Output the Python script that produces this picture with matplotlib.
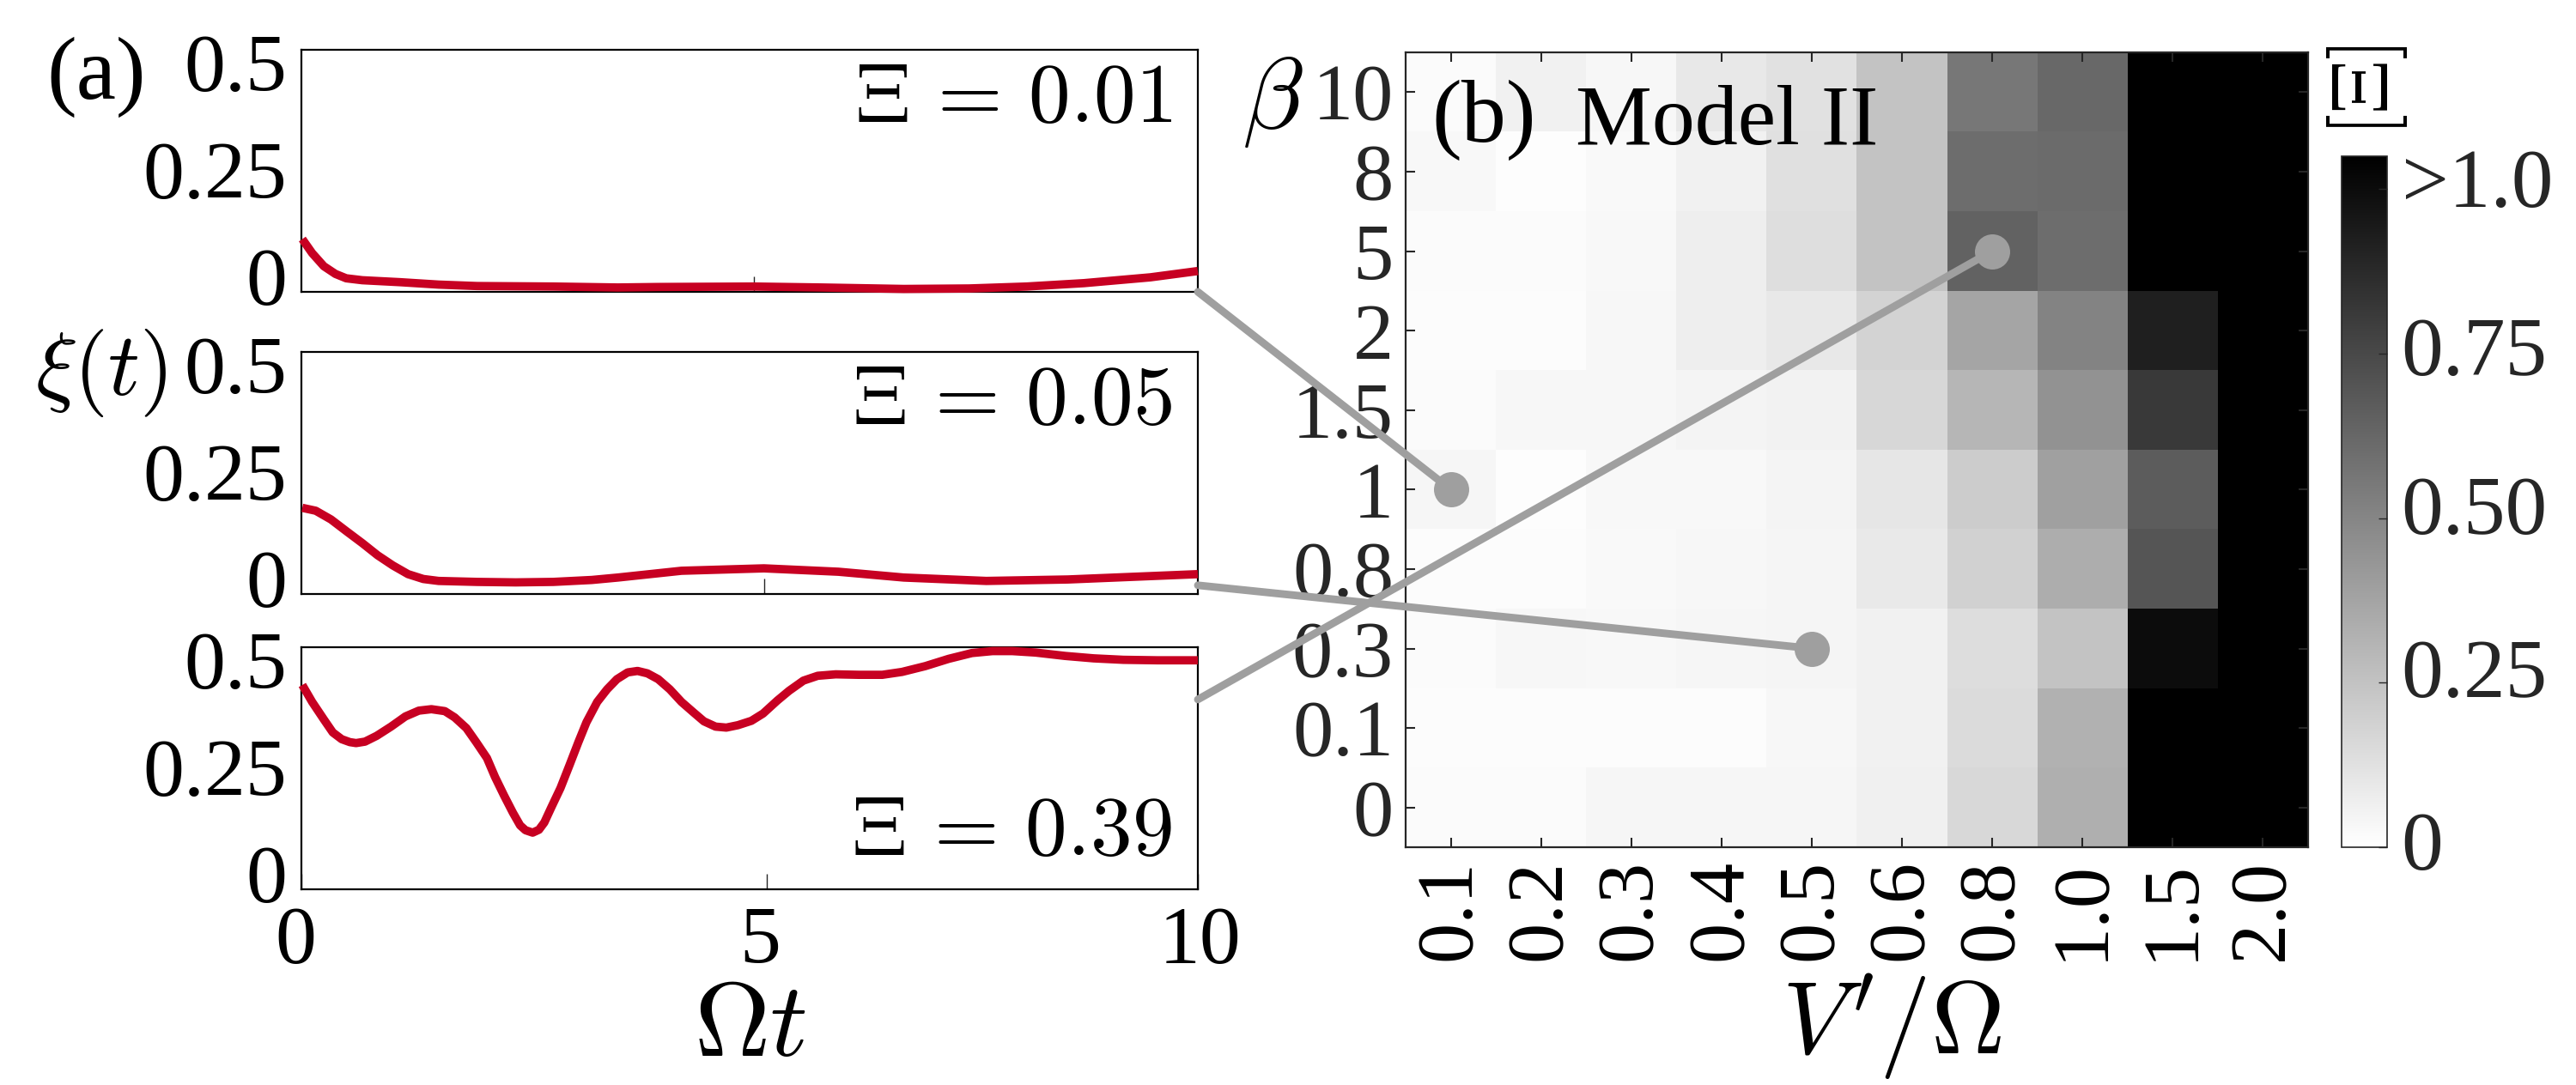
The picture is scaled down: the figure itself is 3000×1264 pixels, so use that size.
"""Decay curves xi(t) and the Xi map for Model II."""
import matplotlib
matplotlib.use("Agg")
import matplotlib.pyplot as plt
from matplotlib.patches import ConnectionPatch
from matplotlib.transforms import ScaledTranslation

plt.rcParams["font.family"] = ["Liberation Serif", "DejaVu Serif"]
plt.rcParams["mathtext.fontset"] = "cm"

W, H = 3000, 1264
DPI = 100

# curves
t_1 = [0.01, 0.12, 0.25, 0.38, 0.50, 0.68, 1.10, 1.53, 1.96, 2.81, 3.53, 3.97, 5.05,
       5.80, 6.72, 7.45, 8.09, 8.73, 9.47, 10]
xi_1 = [0.109, 0.080, 0.053, 0.037, 0.028, 0.024, 0.020, 0.015, 0.012, 0.011, 0.009,
        0.010, 0.011, 0.009, 0.006, 0.007, 0.011, 0.018, 0.030, 0.043]
t_2 = [0.01, 0.16, 0.33, 0.50, 0.68, 0.85, 1.02, 1.19, 1.36, 1.53, 1.96, 2.39, 2.81,
       3.24, 3.53, 4.24, 5.16, 5.99, 6.72, 7.64, 8.55, 10]
xi_2 = [0.178, 0.172, 0.154, 0.130, 0.105, 0.080, 0.059, 0.041, 0.031, 0.027, 0.025,
        0.024, 0.025, 0.029, 0.034, 0.048, 0.053, 0.046, 0.034, 0.027, 0.030, 0.041]
t_3 = [0.01, 0.12, 0.25, 0.35, 0.45, 0.54, 0.61, 0.71, 0.84, 1.00, 1.16, 1.31, 1.45,
       1.60, 1.71, 1.84, 1.95, 2.07, 2.16, 2.26, 2.36, 2.44, 2.50, 2.58, 2.65, 2.71,
       2.79, 2.89, 2.99, 3.09, 3.18, 3.30, 3.41, 3.52, 3.64, 3.75, 3.86, 3.98, 4.11,
       4.24, 4.37, 4.49, 4.62, 4.74, 4.87, 5.02, 5.15, 5.31, 5.44, 5.60, 5.76, 5.96,
       6.22, 6.48, 6.70, 6.96, 7.22, 7.48, 7.71, 7.93, 8.19, 8.52, 8.84, 9.17, 9.55, 10]
xi_3 = [0.422, 0.387, 0.351, 0.324, 0.310, 0.304, 0.302, 0.305, 0.317, 0.336, 0.357,
        0.369, 0.372, 0.368, 0.355, 0.333, 0.304, 0.271, 0.232, 0.194, 0.158, 0.132,
        0.122, 0.117, 0.123, 0.138, 0.170, 0.209, 0.256, 0.304, 0.345, 0.387, 0.413,
        0.434, 0.448, 0.451, 0.446, 0.434, 0.413, 0.387, 0.366, 0.347, 0.336, 0.334,
        0.339, 0.348, 0.363, 0.390, 0.410, 0.431, 0.441, 0.444, 0.443, 0.443, 0.449,
        0.461, 0.476, 0.488, 0.492, 0.492, 0.489, 0.482, 0.477, 0.474, 0.473, 0.473]
curves = [(t_1, xi_1), (t_2, xi_2), (t_3, xi_3)]
xi_labels = [r"$\Xi\,=\,0.01$", r"$\Xi\,=\,0.05$", r"$\Xi\,=\,0.39$"]
mid_ticks = [5.05, 5.16, 5.19]  # the middle tick sits off centre in the original

# panel (b), rows from top to bottom
v_labels = ["0.1", "0.2", "0.3", "0.4", "0.5", "0.6", "0.8", "1.0", "1.5", "2.0"]
beta_labels = ["10", "8", "5", "2", "1.5", "1", "0.8", "0.3", "0.1", "0"]
xi_map = [
    [0.020, 0.058, 0.033, 0.095, 0.124, 0.247, 0.56, 0.62, 1.10, 1.10],
    [0.030, 0.012, 0.025, 0.060, 0.128, 0.247, 0.60, 0.61, 1.10, 1.10],
    [0.020, 0.020, 0.030, 0.070, 0.136, 0.247, 0.64, 0.60, 1.10, 1.10],
    [0.016, 0.016, 0.033, 0.070, 0.095, 0.177, 0.37, 0.51, 0.92, 1.10],
    [0.020, 0.033, 0.033, 0.049, 0.054, 0.165, 0.30, 0.45, 0.81, 1.10],
    [0.041, 0.012, 0.029, 0.029, 0.049, 0.103, 0.21, 0.39, 0.67, 1.10],
    [0.016, 0.016, 0.025, 0.033, 0.045, 0.091, 0.19, 0.34, 0.70, 1.10],
    [0.020, 0.033, 0.029, 0.037, 0.045, 0.058, 0.14, 0.25, 1.00, 1.10],
    [0.016, 0.016, 0.016, 0.016, 0.033, 0.058, 0.15, 0.32, 1.10, 1.10],
    [0.020, 0.020, 0.037, 0.037, 0.037, 0.062, 0.16, 0.33, 1.10, 1.10],
]
cbar_ticks = [0, 0.25, 0.5, 0.75, 1.0]
cbar_labels = ["0", "0.25", "0.50", "0.75", ">1.0"]

# which map cell each curve belongs to: (column, row, curve end value)
links = [(0, 5, 0.0), (4, 7, 0.018), (6, 2, 0.392)]

RED = "#c70022"
LINK = "#9f9f9f"
DARK = "#262626"


def axes_px(fig, left, top, right, bottom):
    return fig.add_axes([left / W, 1 - bottom / H, (right - left) / W, (bottom - top) / H])


def shift(label, dx, dy):
    # dx, dy in pixels, dy upwards
    label.set_transform(
        label.get_transform() + ScaledTranslation(dx / DPI, dy / DPI, fig.dpi_scale_trans)
    )


fig = plt.figure(figsize=(W / DPI, H / DPI), dpi=DPI)

boxes = [(58, 340), (410, 692), (754, 1036)]
curve_axes = []
for i, (top, bottom) in enumerate(boxes):
    ax = axes_px(fig, 351, top, 1395, bottom)
    ax.plot(curves[i][0], curves[i][1], color=RED, lw=7, clip_on=False,
            solid_capstyle="butt", zorder=5)
    ax.set_xlim(0, 10)
    ax.set_ylim(0, 0.5)
    ax.set_yticks([0, 0.25, 0.5], ["0", "0.25", "0.5"])
    ax.tick_params(axis="y", length=0, pad=12, labelsize=69)
    ax.tick_params(axis="x", direction="in", length=13, width=1, color=DARK, labelsize=69, pad=14)
    for lab, dy in zip(ax.get_yticklabels(), [18, 1, -15]):
        shift(lab, 0, dy)
    if i == 2:
        ax.set_xticks([0, mid_ticks[i], 10], ["0", "5", "10"])
        for lab, dx in zip(ax.get_xticklabels(), [-7, -8, 2]):
            shift(lab, dx, 0)
        ax.set_xlabel(r"$\Omega t$", fontsize=88)
        ax.xaxis.set_label_coords(0.5, -0.385, transform=ax.transAxes)
        ax.xaxis.label.set_va("top")
    else:
        ax.set_xticks([mid_ticks[i]], [""])
    ax.text(0.971, 0.225 if i == 2 else 0.785, xi_labels[i], transform=ax.transAxes,
            ha="right", va="center", fontsize=70)
    for side in ax.spines:
        ax.spines[side].set_linewidth(1.6)
    curve_axes.append(ax)

hm = axes_px(fig, 1637, 61, 2688, 987)
im = hm.imshow(xi_map, cmap="gray_r", vmin=0, vmax=1.05, aspect="auto", interpolation="nearest")
hm.set_xticks(range(len(v_labels)), v_labels, rotation=90)
hm.set_yticks(range(len(beta_labels)), beta_labels, color=DARK)
hm.tick_params(axis="both", direction="in", top=True, right=True, length=8, width=1.5,
               color=DARK)
hm.tick_params(axis="x", labelsize=68, pad=10)
hm.tick_params(axis="y", labelsize=68, pad=10)
for side in hm.spines:
    hm.spines[side].set_linewidth(1.6)
    hm.spines[side].set_color(DARK)
hm.set_xlabel(r"$V'/\Omega$", fontsize=86)
hm.xaxis.set_label_coords(0.5385, -0.157, transform=hm.transAxes)
hm.xaxis.label.set_va("top")

cax = axes_px(fig, 2727, 182, 2780, 987)
cb = fig.colorbar(im, cax=cax)
cb.set_ticks(cbar_ticks, labels=cbar_labels)
cax.tick_params(direction="in", length=7, width=1, color=DARK, labelsize=70, labelcolor=DARK, pad=12)
cb.outline.set_linewidth(1.2)
cb.outline.set_edgecolor(DARK)
for lab, dy in zip(cax.get_yticklabels(), [8, 17, 15, 9, 13]):
    shift(lab, 0, dy)

for ax, (col, row, end) in zip(curve_axes, links):
    hm.scatter([col], [row], s=(41 * 72 / DPI) ** 2, color=LINK, zorder=6, clip_on=False,
               linewidths=0)
    fig.add_artist(ConnectionPatch((10, end), (col, row), coordsA=ax.transData,
                                   coordsB=hm.transData, color=LINK, lw=6.4, zorder=3))

fig.text(112 / W, 1 - 90 / H, "(a)", fontsize=75, ha="center", va="center")
fig.text(1728 / W, 1 - 140 / H, "(b)", fontsize=75, ha="center", va="center")
fig.text(2011 / W, 1 - 144 / H, "Model II", fontsize=72, ha="center", va="center")
fig.text(118 / W, 1 - 435 / H, r"$\xi(t)$", fontsize=74, ha="center", va="center")
fig.text(1482 / W, 1 - 119 / H, r"$\beta$", fontsize=84, ha="center", va="center")
fig.text(2757 / W, 1 - 106 / H, r"$[\Xi]$", fontsize=68, ha="center", va="center", rotation=90)

fig.savefig("out.png", dpi=DPI)
